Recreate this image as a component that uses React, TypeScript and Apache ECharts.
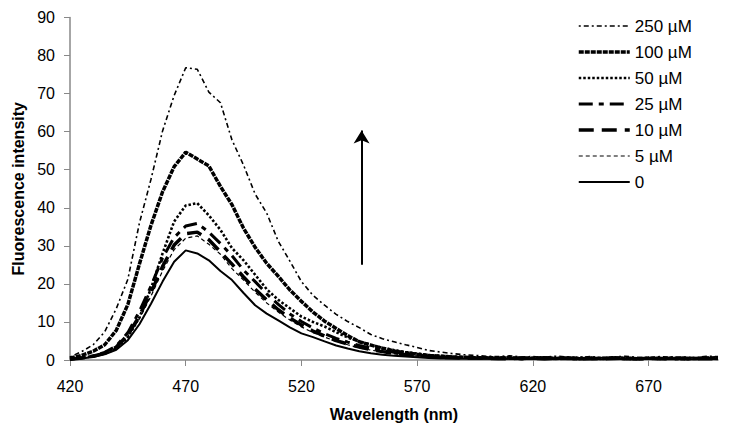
import React, { useEffect, useRef } from "react";
import * as echarts from "echarts";

// Wavelength grid (nm)
const wavelengths = [
  420, 425, 430, 435, 440, 445, 450, 455, 460, 465, 470, 475, 480, 485, 490, 495,
  500, 505, 510, 515, 520, 525, 530, 535, 540, 545, 550, 555, 560, 565, 570, 575,
  580, 585, 590, 595, 600, 605, 610, 615, 620, 625, 630, 635, 640, 645, 650, 655,
  660, 665, 670, 675, 680, 685, 690, 695, 700,
];

const s250 = [
  0.8, 2.2, 4.0, 7.4, 13.5, 21.2, 36.0, 47.5, 60.2, 69.5, 76.8, 76.4, 70.4, 67.6, 57.8, 51.2,
  43.6, 38.6, 31.2, 26.0, 20.6, 17.0, 14.4, 12.0, 10.1, 8.5, 6.7, 5.6, 4.8, 4.0, 3.3, 2.5,
  2.1, 1.7, 1.4, 1.2, 1.0, 0.9, 1.1, 0.8, 0.9, 0.7, 1.0, 0.8, 0.7, 0.9, 0.6, 0.8,
  1.0, 0.7, 0.6, 0.9, 0.7, 0.8, 0.6, 1.0, 0.9,
];
const s100 = [
  0.5, 1.2, 2.3, 4.0, 7.8, 14.6, 25.2, 35.4, 44.2, 50.8, 54.6, 52.8, 51.0, 45.6, 40.8, 34.6,
  29.6, 25.4, 22.0, 18.4, 15.4, 12.6, 10.2, 8.3, 6.4, 4.8, 3.9, 3.1, 2.4, 1.9, 1.5, 1.2,
  1.0, 0.8, 0.7, 0.6, 0.6, 0.5, 0.6, 0.4, 0.5, 0.6, 0.4, 0.5, 0.3, 0.5, 0.4, 0.6,
  0.4, 0.3, 0.5, 0.4, 0.5, 0.3, 0.4, 0.5, 0.6,
];
const s50 = [
  0.3, 0.6, 1.0, 1.7, 3.0, 6.0, 11.2, 18.8, 28.0, 36.4, 40.6, 41.2, 38.0, 34.2, 29.4, 26.2,
  22.4, 18.6, 15.8, 13.6, 11.4, 10.0, 8.8, 7.3, 5.9, 4.9, 4.0, 3.2, 2.6, 2.1, 1.7, 1.3,
  1.1, 0.9, 0.8, 0.7, 0.6, 0.7, 0.5, 0.6, 0.4, 0.6, 0.5, 0.4, 0.6, 0.5, 0.4, 0.5,
  0.6, 0.4, 0.5, 0.3, 0.6, 0.4, 0.5, 0.4, 0.5,
];
const s25 = [
  0.2, 0.6, 1.1, 2.0, 3.7, 7.2, 12.8, 19.4, 26.8, 32.2, 35.2, 35.9, 33.6, 30.6, 27.4, 23.6,
  20.6, 17.4, 14.6, 12.1, 10.1, 8.4, 6.9, 5.7, 4.7, 3.8, 3.1, 2.5, 2.0, 1.6, 1.3, 1.0,
  0.8, 0.7, 0.6, 0.5, 0.5, 0.4, 0.5, 0.3, 0.4, 0.5, 0.3, 0.4, 0.4, 0.3, 0.5, 0.4,
  0.3, 0.4, 0.5, 0.3, 0.4, 0.3, 0.4, 0.5, 0.4,
];
const s10 = [
  0.2, 0.5, 1.0, 1.8, 3.4, 6.6, 11.6, 17.8, 24.6, 30.2, 33.2, 33.6, 31.6, 28.4, 25.2, 21.8,
  18.6, 15.8, 13.2, 11.0, 9.2, 7.6, 6.3, 5.1, 4.2, 3.4, 2.7, 2.2, 1.7, 1.4, 1.1, 0.9,
  0.7, 0.6, 0.5, 0.5, 0.4, 0.4, 0.3, 0.5, 0.4, 0.3, 0.4, 0.5, 0.3, 0.4, 0.3, 0.4,
  0.5, 0.3, 0.4, 0.4, 0.3, 0.5, 0.3, 0.4, 0.3,
];
const s5 = [
  0.2, 0.5, 0.9, 1.7, 3.1, 6.2, 10.8, 16.8, 23.4, 29.0, 32.0, 32.6, 30.4, 27.8, 24.0, 21.0,
  17.8, 15.0, 12.6, 10.5, 8.7, 7.2, 6.0, 4.9, 4.0, 3.2, 2.6, 2.1, 1.6, 1.3, 1.0, 0.8,
  0.6, 0.5, 0.5, 0.4, 0.4, 0.3, 0.4, 0.3, 0.5, 0.3, 0.4, 0.3, 0.4, 0.5, 0.3, 0.4,
  0.3, 0.4, 0.3, 0.5, 0.4, 0.3, 0.4, 0.3, 0.4,
];
const s0 = [
  0.1, 0.4, 0.8, 1.5, 2.7, 5.2, 9.4, 14.8, 20.6, 25.8, 28.8, 28.0, 26.2, 23.4, 21.0, 17.6,
  14.4, 12.2, 10.4, 8.6, 7.0, 6.0, 4.9, 3.8, 3.0, 2.3, 1.8, 1.4, 1.1, 0.9, 0.7, 0.5,
  0.4, 0.4, 0.3, 0.3, 0.3, 0.2, 0.3, 0.2, 0.3, 0.2, 0.3, 0.2, 0.2, 0.3, 0.2, 0.3,
  0.2, 0.2, 0.3, 0.2, 0.3, 0.2, 0.2, 0.3, 0.2,
];

const seriesNames = ["250 µM", "100 µM", "50 µM", "25 µM", "10 µM", "5 µM", "0"];
const seriesValues = [s250, s100, s50, s25, s10, s5, s0];

// Arrow annotation (wavelength, intensity from → to)
const arrowX = 546;
const arrowFrom = 25;
const arrowTo = 60.3;

const lineStyles: any[] = [
  { width: 1.6, type: [2, 3, 5, 3] },
  { width: 3.5, type: [5, 1] },
  { width: 2.6, type: [2.5, 2] },
  { width: 3, type: [14, 6, 5, 6] },
  { width: 3.5, type: [15, 8] },
  { width: 1.2, type: [4, 3] },
  { width: 2, type: "solid" },
];

const FONT = "'Liberation Sans', Arial, sans-serif";

export default function App() {
  const ref = useRef<HTMLDivElement>(null);
  useEffect(() => {
    const chart = echarts.init(ref.current!, null, { renderer: "svg" });
    const series: any[] = seriesNames.map((name, k) => ({
      name,
      type: "line",
      symbol: "none",
      showSymbol: false,
      data: wavelengths.map((w, i) => [w, seriesValues[k][i]]),
      lineStyle: { color: "#000", ...lineStyles[k] },
      itemStyle: { color: "#000" },
      z: 2 + k,
    }));
    series[6].markLine = {
      silent: true,
      symbol: ["none", "arrow"],
      symbolSize: [12, 13],
      label: { show: false },
      lineStyle: { color: "#000", width: 2, type: "solid" },
      data: [[{ coord: [arrowX, arrowFrom] }, { coord: [arrowX, arrowTo] }]],
    };
    chart.setOption({
      animation: false,
      backgroundColor: "#fff",
      textStyle: { fontFamily: FONT },
      grid: { left: 70, right: 11, top: 17.5, bottom: 74 },
      legend: {
        orient: "vertical",
        left: 572,
        top: 12.5,
        itemWidth: 51,
        itemHeight: 14,
        itemGap: 9,
        itemStyle: { opacity: 0 },
        textStyle: { fontSize: 17, color: "#000", fontFamily: FONT },
        data: seriesNames.map((name, k) => ({
          name,
          lineStyle: { color: "#000", width: lineStyles[k].width, type: lineStyles[k].type },
        })),
      },
      xAxis: {
        type: "value",
        min: 420,
        max: 700,
        interval: 50,
        name: "Wavelength (nm)",
        nameLocation: "middle",
        nameGap: 46,
        nameTextStyle: { fontSize: 16, fontWeight: "bold", color: "#000", fontFamily: FONT },
        axisLine: { show: true, lineStyle: { color: "#888", width: 1.5 } },
        axisTick: { show: true, inside: false, length: 6, lineStyle: { color: "#888", width: 1 } },
        axisLabel: { fontSize: 16, color: "#000", margin: 18, fontFamily: FONT, showMaxLabel: false },
        splitLine: { show: false },
      },
      yAxis: {
        type: "value",
        min: 0,
        max: 90,
        interval: 10,
        name: "Fluorescence intensity",
        nameLocation: "middle",
        nameGap: 44,
        nameRotate: 90,
        nameTextStyle: { fontSize: 16, fontWeight: "bold", color: "#000", fontFamily: FONT },
        axisLine: { show: true, lineStyle: { color: "#888", width: 1.5 } },
        axisTick: { show: true, inside: false, length: 6, lineStyle: { color: "#888", width: 1 } },
        axisLabel: { fontSize: 16, color: "#000", margin: 15, fontFamily: FONT },
        splitLine: { show: false },
      },
      series,
    });
    return () => chart.dispose();
  }, []);
  return (
    <div
      ref={ref}
      style={{ position: "fixed", left: 0, top: 0, width: 729, height: 434, background: "#fff" }}
    />
  );
}
